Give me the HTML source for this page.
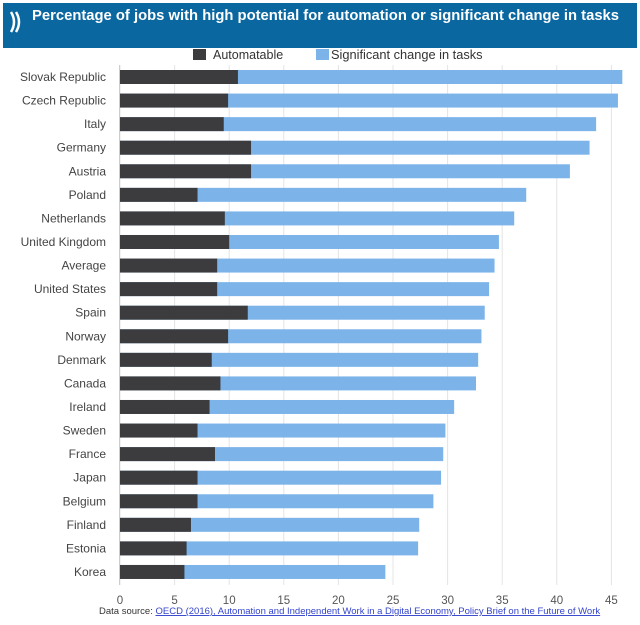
<!DOCTYPE html>
<html><head><meta charset="utf-8"><style>
body{margin:0;background:#fff;width:640px;height:620px;overflow:hidden;font-family:"Liberation Sans",sans-serif}
</style></head><body>
<svg width="640" height="620" xmlns="http://www.w3.org/2000/svg">
<rect x="3" y="3" width="634" height="45" fill="#0b67a0"/>
<path d="M11 12 Q17 22 11 32 M16 12 Q22 22 16 32" stroke="#fff" stroke-width="2.5" fill="none"/>
<text x="32" y="20" fill="#fff" font-size="14.8" font-weight="bold">Percentage of jobs with high potential for automation or significant change in tasks</text>
<g>
<rect x="193" y="49" width="13" height="11" fill="#3c3c3e"/>
<text x="213" y="59" font-size="12.5" fill="#333">Automatable</text>
<rect x="316" y="49" width="13" height="11" fill="#7cb4ea"/>
<text x="331" y="59" font-size="12.8" fill="#333">Significant change in tasks</text>
</g>
<g id="plot"></g>
<text x="99" y="614" font-size="9.5" fill="#333">Data source: <tspan fill="#3344cc" text-decoration="underline">OECD (2016), Automation and Independent Work in a Digital Economy, Policy Brief on the Future of Work</tspan></text>
</svg>
<script>
const countries=["Slovak Republic","Czech Republic","Italy","Germany","Austria","Poland","Netherlands","United Kingdom","Average","United States","Spain","Norway","Denmark","Canada","Ireland","Sweden","France","Japan","Belgium","Finland","Estonia","Korea"];
const automatable=[10.8,9.9,9.5,12.0,12.0,7.1,9.6,10.0,8.9,8.9,11.7,9.9,8.4,9.2,8.2,7.1,8.7,7.1,7.1,6.5,6.1,5.9];
const totals=[46.0,45.6,43.6,43.0,41.2,37.2,36.1,34.7,34.3,33.8,33.4,33.1,32.8,32.6,30.6,29.8,29.6,29.4,28.7,27.4,27.3,24.3];
const ticks=[0,5,10,15,20,25,30,35,40,45];
const NS="http://www.w3.org/2000/svg";
const g=document.getElementById('plot');
const xs=v=>120+v*10.92;
const plotTop=65,step=23.57;
const ys=i=>plotTop+12+i*step;
function mk(t,a){const e=document.createElementNS(NS,t);for(const k in a)e.setAttribute(k,a[k]);g.appendChild(e);return e;}
ticks.forEach(t=>{
 const l=mk('line',{x1:xs(t),x2:xs(t),y1:plotTop,y2:585,stroke:'#e4e4e4'});
 
 
 const tx=mk('text',{x:xs(t),y:604,'font-size':11.5,fill:'#555','text-anchor':'middle'});
 tx.textContent=t;
 
 
});
const ax=mk('line',{x1:119.5,x2:119.5,y1:plotTop,y2:585,stroke:'#c0d0e0'});


countries.forEach((c,i)=>{
 const cy=ys(i);
 const s=mk('rect',{x:xs(0),y:cy-7,width:xs(totals[i])-xs(0),height:14,fill:'#7cb4ea'});
 
 
 const a=mk('rect',{x:xs(0),y:cy-7,width:xs(automatable[i])-xs(0),height:14,fill:'#3c3c3e'});
 
 
 const t=mk('text',{x:106,y:cy+4,'font-size':12,fill:'#444','text-anchor':'end'});
 t.textContent=c;
 
 
});
</script>
</body></html>
